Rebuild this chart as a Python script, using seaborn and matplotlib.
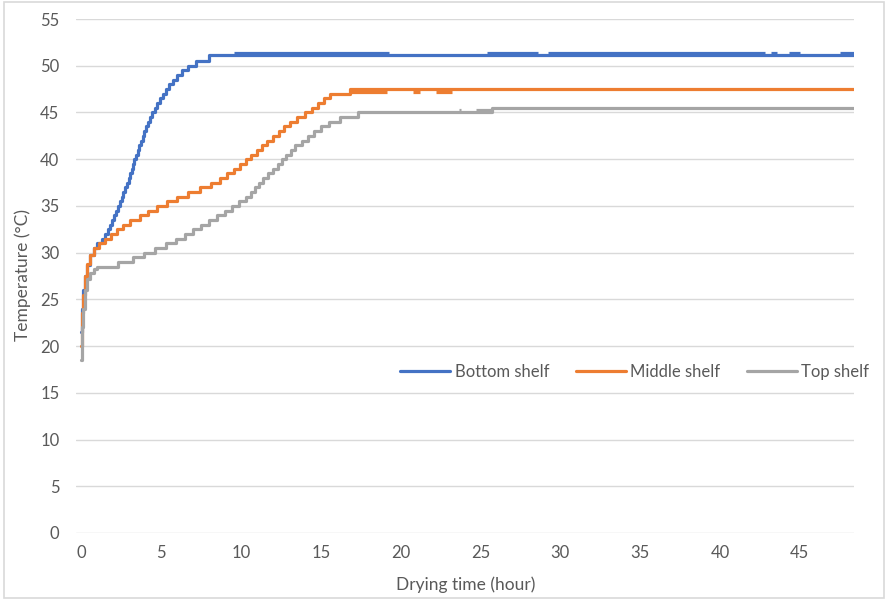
import matplotlib
matplotlib.use("Agg")
import matplotlib.pyplot as plt
from matplotlib.patches import Rectangle
import seaborn as sns
import pandas as pd

# ---------------- data ----------------
series_names = ["Bottom shelf", "Middle shelf", "Top shelf"]
colors = ["#4472C4", "#ED7D31", "#A5A5A5"]

bottom_t = [0, 0.05, 0.1, 0.2, 0.35, 0.55, 0.8, 1.0, 1.3, 1.5, 1.65, 1.8, 1.92, 2.04,
            2.16, 2.28, 2.4, 2.52, 2.63, 2.74, 2.85, 2.95, 3.05, 3.14, 3.23, 3.32, 3.42,
            3.52, 3.62, 3.72, 3.83, 3.94, 4.06, 4.18, 4.31, 4.45, 4.6, 4.75, 4.92, 5.1,
            5.3, 5.5, 5.75, 6.0, 6.3, 6.65, 7.2, 8.0, 48.4]
bottom_v = [21.5, 24.0, 26.0, 27.5, 28.7, 29.7, 30.5, 31.0, 31.5, 32.0, 32.5, 33.0, 33.5,
            34.0, 34.5, 35.0, 35.5, 36.0, 36.5, 37.0, 37.5, 38.0, 38.5, 39.0, 39.5, 40.0,
            40.5, 41.0, 41.5, 42.0, 42.5, 43.0, 43.5, 44.0, 44.5, 45.0, 45.5, 46.0, 46.5,
            47.0, 47.5, 48.0, 48.5, 49.0, 49.5, 50.0, 50.5, 51.1, 51.1]

middle_t = [0, 0.05, 0.1, 0.2, 0.35, 0.55, 0.8, 1.1, 1.5, 1.85, 2.25, 2.6, 3.05, 3.65,
            4.2, 4.75, 5.35, 6.0, 6.7, 7.4, 8.1, 8.7, 9.15, 9.55, 9.95, 10.3, 10.65, 11.0,
            11.3, 11.65, 12.0, 12.35, 12.7, 13.05, 13.5, 14.0, 14.45, 14.85, 15.2, 15.6,
            16.8, 48.4]
middle_v = [20.0, 23.5, 25.5, 27.5, 28.8, 29.8, 30.5, 31.0, 31.5, 32.0, 32.5, 33.0, 33.5,
            34.0, 34.5, 35.0, 35.5, 36.0, 36.5, 37.0, 37.5, 38.0, 38.5, 39.0, 39.5, 40.0,
            40.5, 41.0, 41.5, 42.0, 42.5, 43.0, 43.5, 44.0, 44.5, 45.0, 45.5, 46.0, 46.5,
            47.0, 47.5, 47.5]

top_t = [0, 0.05, 0.1, 0.2, 0.35, 0.55, 0.8, 1.0, 2.3, 3.2, 3.9, 4.6, 5.3, 5.9, 6.5,
         7.0, 7.5, 8.0, 8.5, 9.0, 9.45, 9.9, 10.3, 10.6, 10.85, 11.1, 11.4, 11.7, 12.0,
         12.3, 12.55, 12.8, 13.1, 13.4, 13.8, 14.2, 14.6, 15.0, 15.5, 16.2, 17.3, 25.7, 48.4]
top_v = [18.5, 22.0, 24.0, 26.0, 27.2, 27.8, 28.2, 28.5, 29.0, 29.5, 30.0, 30.5, 31.0,
         31.5, 32.0, 32.5, 33.0, 33.5, 34.0, 34.5, 35.0, 35.5, 36.0, 36.5, 37.0, 37.5,
         38.0, 38.5, 39.0, 39.5, 40.0, 40.5, 41.0, 41.5, 42.0, 42.5, 43.0, 43.5, 44.0,
         44.5, 45.0, 45.5, 45.5]

# intervals where the reading flickers to a second level
bottom_flicker_start = [9.56, 25.42, 29.2, 43.2, 44.3, 47.5]
bottom_flicker_end = [19.28, 28.6, 42.8, 43.6, 45.0, 48.4]
bottom_flicker_level = 51.4
middle_flicker_start = [16.8, 20.8, 22.2]
middle_flicker_end = [19.15, 21.2, 23.2]
middle_flicker_level = 47.2
top_flicker_start = [23.65, 24.7]
top_flicker_end = [23.75, 25.7]
top_flicker_level = 45.3

x_ticks = [0, 5, 10, 15, 20, 25, 30, 35, 40, 45]
y_ticks = [0, 5, 10, 15, 20, 25, 30, 35, 40, 45, 50, 55]

# ---------------- figure ----------------
sns.set_theme(style="white")
plt.rcParams["font.family"] = ["Lato", "DejaVu Sans"]
text_color = "#595959"
grid_color = "#D9D9D9"

fig = plt.figure(figsize=(8.87, 6.0), dpi=100)
ax = fig.add_axes([0.0857, 0.1117, 0.8771, 0.8566])

times = [bottom_t, middle_t, top_t]
vals = [bottom_v, middle_v, top_v]
fl_s = [bottom_flicker_start, middle_flicker_start, top_flicker_start]
fl_e = [bottom_flicker_end, middle_flicker_end, top_flicker_end]
fl_l = [bottom_flicker_level, middle_flicker_level, top_flicker_level]

for name, c, t, v, s, e, lv in zip(series_names, colors, times, vals, fl_s, fl_e, fl_l):
    df = pd.DataFrame({"t": t, "v": v})
    sns.lineplot(data=df, x="t", y="v", ax=ax, color=c, lw=2.3, label=name,
                 drawstyle="steps-post", estimator=None, sort=False)
    ax.hlines([lv] * len(s), s, e, colors=c, lw=2.3)

ax.set_xlim(-0.34, 48.4)
ax.set_ylim(0, 55)
ax.set_xticks(x_ticks)
ax.set_yticks(y_ticks)
ax.yaxis.grid(True, color=grid_color, lw=1.0)
ax.xaxis.grid(False)
ax.set_axisbelow(True)
for sp in ax.spines.values():
    sp.set_visible(False)
ax.tick_params(axis="both", length=0, labelsize=12, labelcolor=text_color)
ax.tick_params(axis="y", pad=12)
ax.tick_params(axis="x", pad=9)

ax.set_xlabel("Drying time (hour)", fontsize=12.5, color=text_color, va="center")
ax.set_ylabel("Temperature (°C)", fontsize=12.5, color=text_color, va="center")
ax.xaxis.set_label_coords(0.501, -0.101)
ax.yaxis.set_label_coords(-0.069, 0.502)

handles, labels = ax.get_legend_handles_labels()
leg = fig.legend(handles[:3], labels[:3], loc="center", bbox_to_anchor=(0.7155, 0.38),
                 ncol=3, frameon=False, fontsize=12, handlelength=3.0,
                 handletextpad=0.25, columnspacing=1.6, labelcolor=text_color)
if ax.get_legend() is not None:
    ax.get_legend().remove()

fig.patches.append(Rectangle((0.004, 0.004), 0.993, 0.993, transform=fig.transFigure,
                             fill=False, edgecolor=grid_color, lw=1.2))

fig.savefig("out.png", dpi=100)
